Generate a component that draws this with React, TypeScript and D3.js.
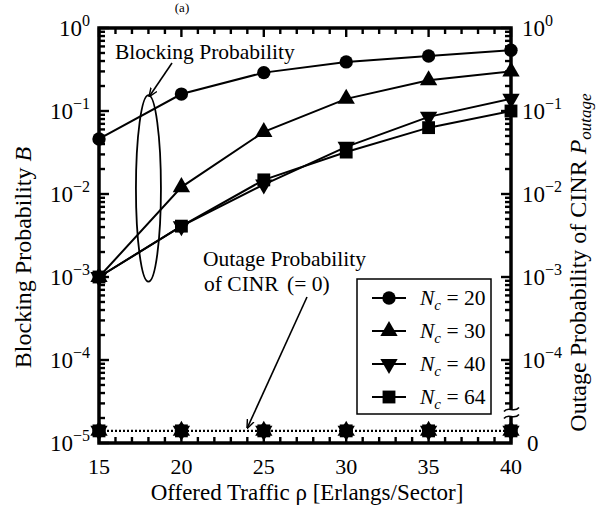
import React, { useEffect, useRef } from 'react';
import * as d3 from 'd3';

const WIDTH = 605;
const HEIGHT = 505;

// offered traffic (x values)
const TRAFFIC = [15, 20, 25, 30, 35, 40];
// blocking probability for each number of channels
const B_NC20 = [0.046, 0.16, 0.29, 0.39, 0.46, 0.54];
const B_NC30 = [0.001, 0.0121, 0.056, 0.14, 0.235, 0.3];
const B_NC40 = [0.001, 0.0041, 0.013, 0.037, 0.085, 0.14];
const B_NC64 = [0.001, 0.0041, 0.0148, 0.032, 0.063, 0.1];
// outage probability of CINR is zero everywhere
const OUTAGE = [0, 0, 0, 0, 0, 0];
const NC_LABELS = ['20', '30', '40', '64'];

const X_TICKS = [15, 20, 25, 30, 35, 40];
const LEFT_EXPONENTS = [0, -1, -2, -3, -4, -5];
const RIGHT_EXPONENTS = [0, -1, -2, -3, -4];

// where "0" of the right axis is drawn, in left-axis units
const OUTAGE_ZERO_LEVEL = 1.4e-5;

const FONT = '"Liberation Serif", "DejaVu Serif", serif';

export default function App() {
  const ref = useRef<SVGSVGElement>(null);

  useEffect(() => {
    document.body.style.margin = '0';
    const svg = d3.select(ref.current);
    svg.selectAll('*').remove();

    const margin = { top: 28, right: 94, bottom: 62, left: 99 };
    const x = d3.scaleLinear().domain([15, 40]).range([margin.left, WIDTH - margin.right]);
    const y = d3.scaleLog().domain([1e-5, 1]).range([HEIGHT - margin.bottom, margin.top]);
    const yRight = (v: number) => (v === 0 ? y(OUTAGE_ZERO_LEVEL) : y(v));

    const x0 = x(15), x1 = x(40), y0 = y(1e-5), y1 = y(1);

    const defs = svg.append('defs');
    defs.append('marker')
      .attr('id', 'arr')
      .attr('viewBox', '0 0 10 10')
      .attr('refX', 9).attr('refY', 5)
      .attr('markerWidth', 9).attr('markerHeight', 9)
      .attr('markerUnits', 'userSpaceOnUse')
      .attr('orient', 'auto')
      .append('path')
      .attr('d', 'M0,1 L10,5 L0,9')
      .attr('fill', 'none')
      .attr('stroke', 'black')
      .attr('stroke-width', 1.6);

    // panel title
    svg.append('text')
      .attr('x', 182).attr('y', 12)
      .attr('text-anchor', 'middle')
      .attr('font-family', FONT).attr('font-size', 13)
      .text('(a)');

    const ticks = svg.append('g').attr('stroke', 'black').attr('stroke-width', 2.4);

    // x ticks (bottom and top, inward)
    d3.range(15, 41).forEach((t) => {
      const major = X_TICKS.includes(t);
      ticks.append('line')
        .attr('x1', x(t)).attr('x2', x(t))
        .attr('y1', y0).attr('y2', y0 - (major ? 11 : 6));
      ticks.append('line')
        .attr('x1', x(t)).attr('x2', x(t))
        .attr('y1', y1).attr('y2', y1 + (major ? 9 : 6));
    });

    // left y ticks
    LEFT_EXPONENTS.forEach((e) => {
      const v = Math.pow(10, e);
      ticks.append('line')
        .attr('x1', x0).attr('x2', x0 + 10)
        .attr('y1', y(v)).attr('y2', y(v));
      if (e > -5) {
        d3.range(2, 10).forEach((m) => {
          const vv = m * Math.pow(10, e - 1);
          ticks.append('line')
            .attr('x1', x0).attr('x2', x0 + 6)
            .attr('y1', y(vv)).attr('y2', y(vv));
        });
      }
    });

    // right y ticks
    RIGHT_EXPONENTS.forEach((e) => {
      const v = Math.pow(10, e);
      ticks.append('line')
        .attr('x1', x1).attr('x2', x1 - 10)
        .attr('y1', y(v)).attr('y2', y(v));
      const mins = e > -4 ? d3.range(2, 10) : [];
      mins.forEach((m) => {
        const vv = m * Math.pow(10, e - 1);
        ticks.append('line')
          .attr('x1', x1).attr('x2', x1 - 6)
          .attr('y1', y(vv)).attr('y2', y(vv));
      });
    });
    [3, 4, 5, 6, 7, 8, 9].forEach((m) => {
      const vv = m * 1e-5;
      ticks.append('line')
        .attr('x1', x1).attr('x2', x1 - 6)
        .attr('y1', y(vv)).attr('y2', y(vv));
    });

    // frame
    svg.append('rect')
      .attr('x', x0).attr('y', y1)
      .attr('width', x1 - x0).attr('height', y0 - y1)
      .attr('fill', 'none')
      .attr('stroke', 'black')
      .attr('stroke-width', 3.5);

    // axis break on the right axis
    const brk = svg.append('g');
    const yb = y(2.3e-5);
    brk.append('rect')
      .attr('x', x1 - 3).attr('y', yb - 4)
      .attr('width', 6).attr('height', 8)
      .attr('fill', 'white');
    [-3.5, 3.5].forEach((dy) => {
      brk.append('path')
        .attr('d', `M${x1 - 7},${yb + dy + 2} C${x1 - 3},${yb + dy - 4} ${x1 + 3},${yb + dy + 4} ${x1 + 8},${yb + dy - 2}`)
        .attr('fill', 'none')
        .attr('stroke', 'black')
        .attr('stroke-width', 1.6);
    });

    // tick labels
    X_TICKS.forEach((t) => {
      svg.append('text')
        .attr('x', x(t)).attr('y', y0 + 31)
        .attr('text-anchor', 'middle')
        .attr('font-family', FONT).attr('font-size', 22)
        .text(t);
    });

    const powLabel = (px: number, py: number, e: number, anchor: string) => {
      const t = svg.append('text')
        .attr('x', px).attr('y', py)
        .attr('text-anchor', anchor)
        .attr('font-family', FONT).attr('font-size', 23);
      t.append('tspan').text('10');
      t.append('tspan')
        .attr('font-size', 16)
        .attr('dy', -10)
        .text(e === 0 ? '0' : `\u2212${-e}`);
    };
    LEFT_EXPONENTS.forEach((e) => powLabel(x0 - 9, y(Math.pow(10, e)) + 8, e, 'end'));
    RIGHT_EXPONENTS.forEach((e) => powLabel(x1 + 11, y(Math.pow(10, e)) + 8, e, 'start'));
    svg.append('text')
      .attr('x', x1 + 16).attr('y', y0 + 8)
      .attr('font-family', FONT).attr('font-size', 23)
      .text('0');

    // axis titles
    svg.append('text')
      .attr('x', (x0 + x1) / 2 + 2).attr('y', y0 + 57)
      .attr('text-anchor', 'middle')
      .attr('font-family', FONT).attr('font-size', 23)
      .text('Offered Traffic \u03c1 [Erlangs/Sector]');

    const lt = svg.append('text')
      .attr('transform', `translate(31,${(y0 + y1) / 2 + 22}) rotate(-90)`)
      .attr('text-anchor', 'middle')
      .attr('font-family', FONT).attr('font-size', 24);
    lt.append('tspan').text('Blocking Probability ');
    lt.append('tspan').attr('font-style', 'italic').text('B');

    const rt = svg.append('text')
      .attr('transform', `translate(586,${(y0 + y1) / 2 + 27}) rotate(-90)`)
      .attr('text-anchor', 'middle')
      .attr('font-family', FONT).attr('font-size', 24);
    rt.append('tspan').text('Outage Probability of CINR ');
    rt.append('tspan').attr('font-style', 'italic').text('P');
    rt.append('tspan').attr('font-style', 'italic').attr('font-size', 17).attr('dy', 5).text('outage');

    // series
    const symbols = [
      { type: d3.symbolCircle, size: 140, rot: 0 },
      { type: d3.symbolTriangle, size: 130, rot: 0 },
      { type: d3.symbolTriangle, size: 130, rot: 180 },
      { type: d3.symbolSquare, size: 165, rot: 0 },
    ];
    const seriesList = [B_NC20, B_NC30, B_NC40, B_NC64];
    const line = d3.line<[number, number]>()
      .x((d) => x(d[0]))
      .y((d) => y(d[1]));

    // outage (dotted)
    svg.append('path')
      .datum(TRAFFIC.map((t, i) => [t, OUTAGE[i]] as [number, number]))
      .attr('d', d3.line<[number, number]>().x((d) => x(d[0])).y((d) => yRight(d[1])))
      .attr('fill', 'none')
      .attr('stroke', 'black')
      .attr('stroke-width', 2.2)
      .attr('stroke-dasharray', '2,2');
    symbols.forEach((s) => {
      svg.append('g').selectAll('path')
        .data(TRAFFIC.map((t, i) => [t, OUTAGE[i]]))
        .enter().append('path')
        .attr('d', d3.symbol().type(s.type).size(s.size)())
        .attr('transform', (d) => `translate(${x(d[0])},${yRight(d[1])}) rotate(${s.rot})`)
        .attr('fill', 'black');
    });

    seriesList.forEach((vals, k) => {
      const pts = TRAFFIC.map((t, i) => [t, vals[i]] as [number, number]);
      svg.append('path')
        .datum(pts)
        .attr('d', line)
        .attr('fill', 'none')
        .attr('stroke', 'black')
        .attr('stroke-width', 2);
      const s = symbols[k];
      svg.append('g').selectAll('path')
        .data(pts)
        .enter().append('path')
        .attr('d', d3.symbol().type(s.type).size(s.size)())
        .attr('transform', (d) => `translate(${x(d[0])},${y(d[1])}) rotate(${s.rot})`)
        .attr('fill', 'black');
    });

    // annotations
    const ex = x(18);
    const eyTop = y(0.155), eyBot = y(0.00088);
    svg.append('ellipse')
      .attr('cx', ex).attr('cy', (eyTop + eyBot) / 2)
      .attr('rx', 12.5).attr('ry', (eyBot - eyTop) / 2)
      .attr('fill', 'none')
      .attr('stroke', 'black')
      .attr('stroke-width', 1.8);
    svg.append('text')
      .attr('x', 115).attr('y', 59)
      .attr('font-family', FONT).attr('font-size', 21.5)
      .text('Blocking Probability');
    svg.append('line')
      .attr('x1', 172).attr('y1', 63)
      .attr('x2', ex + 1).attr('y2', eyTop + 1)
      .attr('stroke', 'black')
      .attr('stroke-width', 1.6)
      .attr('marker-end', 'url(#arr)');

    svg.append('text')
      .attr('x', 203).attr('y', 266)
      .attr('font-family', FONT).attr('font-size', 21.5)
      .text('Outage Probability');
    const oc = svg.append('text')
      .attr('x', 204).attr('y', 291)
      .attr('font-family', FONT).attr('font-size', 21.5);
    oc.append('tspan').text('of CINR ');
    oc.append('tspan').attr('dx', 3).text('(= 0)');
    svg.append('line')
      .attr('x1', 307).attr('y1', 297)
      .attr('x2', x(24)).attr('y2', yRight(0) - 3)
      .attr('stroke', 'black')
      .attr('stroke-width', 1.6)
      .attr('marker-end', 'url(#arr)');

    // legend
    const lg = svg.append('g').attr('transform', 'translate(357,279)');
    lg.append('rect')
      .attr('width', 134).attr('height', 135)
      .attr('fill', 'white')
      .attr('stroke', 'black')
      .attr('stroke-width', 1.5);
    NC_LABELS.forEach((lab, k) => {
      const ly = 19 + k * 33;
      lg.append('line')
        .attr('x1', 15).attr('x2', 49)
        .attr('y1', ly).attr('y2', ly)
        .attr('stroke', 'black')
        .attr('stroke-width', 2);
      const s = symbols[k];
      lg.append('path')
        .attr('d', d3.symbol().type(s.type).size(s.size)())
        .attr('transform', `translate(32,${ly}) rotate(${s.rot})`)
        .attr('fill', 'black');
      const t = lg.append('text')
        .attr('x', 63).attr('y', ly + 7)
        .attr('font-family', FONT).attr('font-size', 21.5);
      t.append('tspan').attr('font-style', 'italic').text('N');
      t.append('tspan').attr('font-style', 'italic').attr('font-size', 15).attr('dy', 5).text('c');
      t.append('tspan').attr('dy', -5).text(` = ${lab}`);
    });
  }, []);

  return <svg ref={ref} width={WIDTH} height={HEIGHT} style={{ display: 'block', background: 'white' }} />;
}
